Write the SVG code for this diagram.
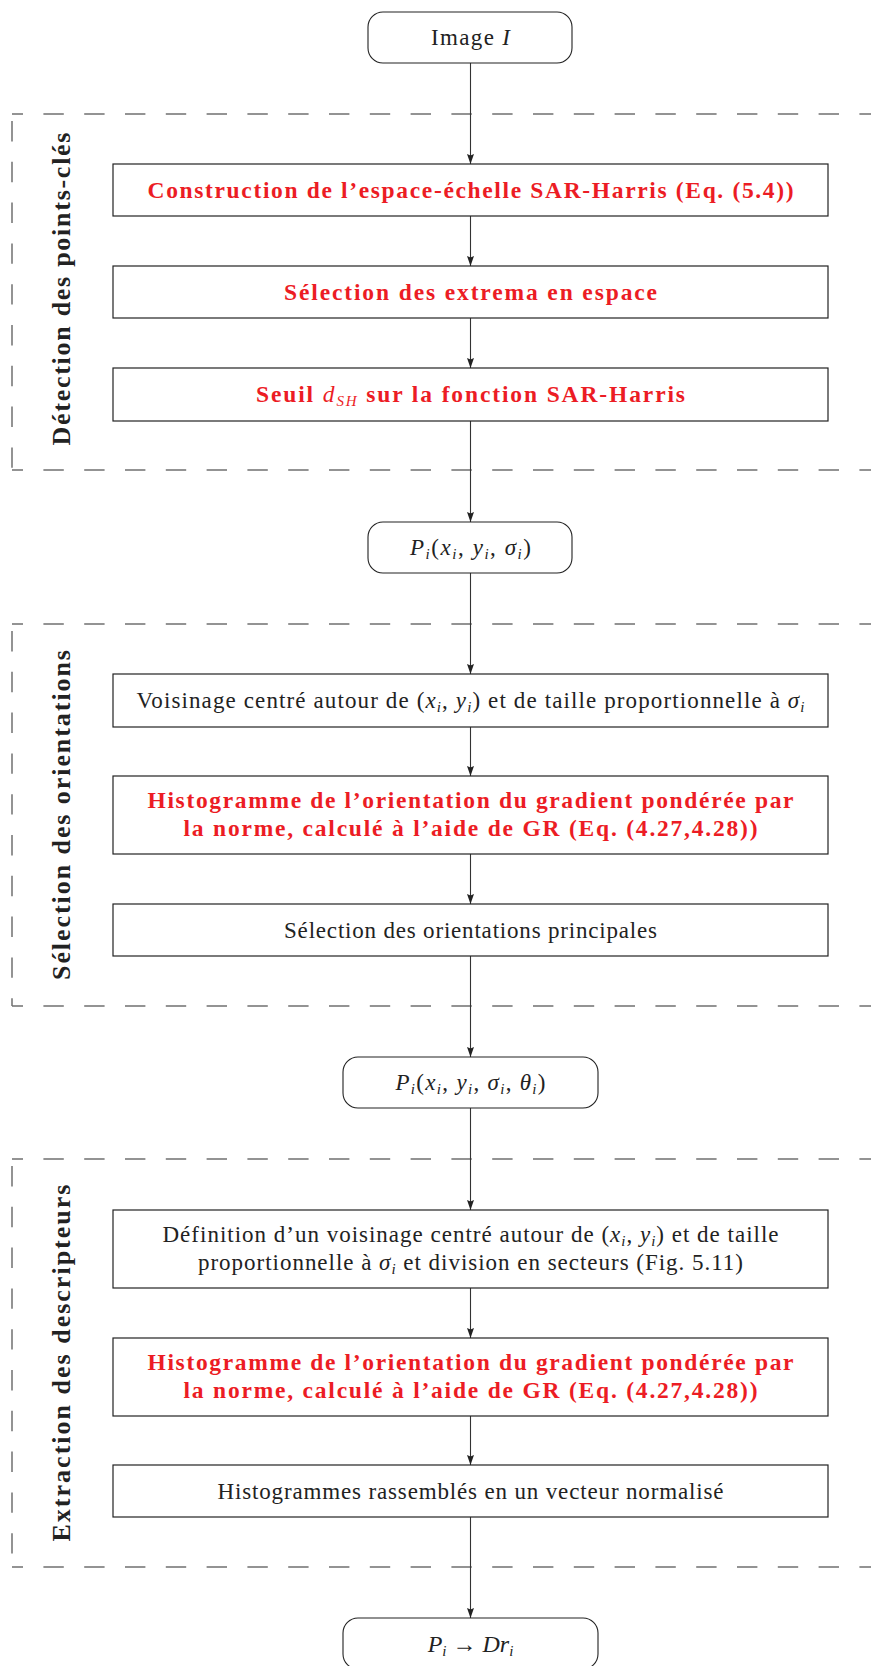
<svg xmlns="http://www.w3.org/2000/svg" width="871" height="1666" viewBox="0 0 871 1666">
<style>
.box{fill:#fff;stroke:#222;stroke-width:1.2}
.term{fill:#fff;stroke:#222;stroke-width:1.1}
.dash{fill:none;stroke:#707070;stroke-width:1.5;stroke-dasharray:20.4 20.4}
.h{stroke-dashoffset:9.4}
.v{stroke-dashoffset:33.8}
.conn{stroke:#333;stroke-width:1.1;fill:none;marker-end:url(#arr)}
.t{font-family:"Liberation Serif","Times New Roman",serif;font-size:23px;fill:#222;text-anchor:middle}
.r{fill:#ec1c24;font-weight:bold;font-size:23.5px}
.m{font-style:italic;font-weight:normal}
.s{font-size:15px}
.lab{font-family:"Liberation Serif","Times New Roman",serif;font-weight:bold;font-size:26px;fill:#222;text-anchor:middle}
</style>
<defs>
<marker id="arr" viewBox="0 0 10 7" refX="10" refY="3.5" markerWidth="10" markerHeight="7" markerUnits="userSpaceOnUse" orient="auto"><path d="M0,0 L10,3.5 L0,7 L1.5,3.5 z" fill="#222"/></marker>
</defs>

<g id="regions">
<g id="region-detection">
<path class="dash h" d="M12,114 H880"/>
<path class="dash h" d="M12,470 H880"/>
<path class="dash v" d="M12,114 V470"/>
<text class="lab" transform="translate(70,289) rotate(-90)" textLength="313" lengthAdjust="spacing">Détection des points-clés</text>
</g>
<g id="region-orientations">
<path class="dash h" d="M12,624 H880"/>
<path class="dash h" d="M12,1006 H880"/>
<path class="dash v" d="M12,624 V1006"/>
<text class="lab" transform="translate(70,815) rotate(-90)" textLength="330" lengthAdjust="spacing">Sélection des orientations</text>
</g>
<g id="region-extraction">
<path class="dash h" d="M12,1159 H880"/>
<path class="dash h" d="M12,1567 H880"/>
<path class="dash v" d="M12,1159 V1567"/>
<text class="lab" transform="translate(70,1363) rotate(-90)" textLength="357" lengthAdjust="spacing">Extraction des descripteurs</text>
</g>
</g>

<g id="connectors">
<line class="conn" x1="470.5" y1="63" x2="470.5" y2="164"/>
<line class="conn" x1="470.5" y1="216" x2="470.5" y2="266"/>
<line class="conn" x1="470.5" y1="318" x2="470.5" y2="368"/>
<line class="conn" x1="470.5" y1="421" x2="470.5" y2="522"/>
<line class="conn" x1="470.5" y1="573" x2="470.5" y2="674"/>
<line class="conn" x1="470.5" y1="727" x2="470.5" y2="776"/>
<line class="conn" x1="470.5" y1="854" x2="470.5" y2="904"/>
<line class="conn" x1="470.5" y1="956" x2="470.5" y2="1057"/>
<line class="conn" x1="470.5" y1="1108" x2="470.5" y2="1210"/>
<line class="conn" x1="470.5" y1="1288" x2="470.5" y2="1338"/>
<line class="conn" x1="470.5" y1="1416" x2="470.5" y2="1465"/>
<line class="conn" x1="470.5" y1="1517" x2="470.5" y2="1618"/>
</g>

<g id="n-image">
<rect class="term" x="368" y="12" width="204" height="51" rx="15"/>
<text class="t" x="470.5" y="45" textLength="79" lengthAdjust="spacing">Image <tspan class="m">I</tspan></text>
</g>

<g id="n-scale-space">
<rect class="box" x="113" y="164" width="715" height="52"/>
<text class="t r" x="470.5" y="197.5" textLength="646" lengthAdjust="spacing">Construction de l’espace-échelle SAR-Harris (Eq. (5.4))</text>
</g>

<g id="n-extrema">
<rect class="box" x="113" y="266" width="715" height="52"/>
<text class="t r" x="470.5" y="299.5" textLength="373" lengthAdjust="spacing">Sélection des extrema en espace</text>
</g>

<g id="n-threshold">
<rect class="box" x="113" y="368" width="715" height="53"/>
<text class="t r" x="470.5" y="402" textLength="429" lengthAdjust="spacing">Seuil <tspan class="m">d</tspan><tspan class="m s" dy="4">SH</tspan><tspan dy="-4"> sur la fonction SAR-Harris</tspan></text>
</g>

<g id="n-keypoints">
<rect class="term" x="368" y="522" width="204" height="51" rx="15"/>
<text class="t" x="470.5" y="555" textLength="121" lengthAdjust="spacing"><tspan class="m">P</tspan><tspan class="m s" dy="4">i</tspan><tspan dy="-4">(</tspan><tspan class="m">x</tspan><tspan class="m s" dy="4">i</tspan><tspan dy="-4">, </tspan><tspan class="m">y</tspan><tspan class="m s" dy="4">i</tspan><tspan dy="-4">, </tspan><tspan class="m">σ</tspan><tspan class="m s" dy="4">i</tspan><tspan dy="-4">)</tspan></text>
</g>

<g id="n-neighbourhood">
<rect class="box" x="113" y="674" width="715" height="53"/>
<text class="t" x="470.5" y="708" textLength="668" lengthAdjust="spacing">Voisinage centré autour de (<tspan class="m">x</tspan><tspan class="m s" dy="4">i</tspan><tspan dy="-4">, </tspan><tspan class="m">y</tspan><tspan class="m s" dy="4">i</tspan><tspan dy="-4">) et de taille proportionnelle à </tspan><tspan class="m">σ</tspan><tspan class="m s" dy="4">i</tspan></text>
</g>

<g id="n-histogram-1">
<rect class="box" x="113" y="776" width="715" height="78"/>
<text class="t r" x="470.5" y="807.5" textLength="646" lengthAdjust="spacing">Histogramme de l’orientation du gradient pondérée par</text>
<text class="t r" x="470.5" y="836" textLength="574" lengthAdjust="spacing">la norme, calculé à l’aide de GR (Eq. (4.27,4.28))</text>
</g>

<g id="n-main-orientations">
<rect class="box" x="113" y="904" width="715" height="52"/>
<text class="t" x="470.5" y="937.5" textLength="373" lengthAdjust="spacing">Sélection des orientations principales</text>
</g>

<g id="n-oriented-keypoints">
<rect class="term" x="343" y="1057" width="255" height="51" rx="15"/>
<text class="t" x="470.5" y="1090" textLength="150" lengthAdjust="spacing"><tspan class="m">P</tspan><tspan class="m s" dy="4">i</tspan><tspan dy="-4">(</tspan><tspan class="m">x</tspan><tspan class="m s" dy="4">i</tspan><tspan dy="-4">, </tspan><tspan class="m">y</tspan><tspan class="m s" dy="4">i</tspan><tspan dy="-4">, </tspan><tspan class="m">σ</tspan><tspan class="m s" dy="4">i</tspan><tspan dy="-4">, </tspan><tspan class="m">θ</tspan><tspan class="m s" dy="4">i</tspan><tspan dy="-4">)</tspan></text>
</g>

<g id="n-sectors">
<rect class="box" x="113" y="1210" width="715" height="78"/>
<text class="t" x="470.5" y="1241.5" textLength="616" lengthAdjust="spacing">Définition d’un voisinage centré autour de (<tspan class="m">x</tspan><tspan class="m s" dy="4">i</tspan><tspan dy="-4">, </tspan><tspan class="m">y</tspan><tspan class="m s" dy="4">i</tspan><tspan dy="-4">) et de taille</tspan></text>
<text class="t" x="470.5" y="1270" textLength="545" lengthAdjust="spacing">proportionnelle à <tspan class="m">σ</tspan><tspan class="m s" dy="4">i</tspan><tspan dy="-4"> et division en secteurs (Fig. 5.11)</tspan></text>
</g>

<g id="n-histogram-2">
<rect class="box" x="113" y="1338" width="715" height="78"/>
<text class="t r" x="470.5" y="1369.5" textLength="646" lengthAdjust="spacing">Histogramme de l’orientation du gradient pondérée par</text>
<text class="t r" x="470.5" y="1398" textLength="574" lengthAdjust="spacing">la norme, calculé à l’aide de GR (Eq. (4.27,4.28))</text>
</g>

<g id="n-vector">
<rect class="box" x="113" y="1465" width="715" height="52"/>
<text class="t" x="470.5" y="1498.5" textLength="506" lengthAdjust="spacing">Histogrammes rassemblés en un vecteur normalisé</text>
</g>

<g id="n-descriptor">
<rect class="term" x="343" y="1618" width="255" height="51" rx="15"/>
<text class="t" x="470.5" y="1652" style="font-size:24px"><tspan class="m">P</tspan><tspan class="m s" dy="4">i</tspan><tspan dy="-4"> → </tspan><tspan class="m">Dr</tspan><tspan class="m s" dy="4">i</tspan></text>
</g>
</svg>
